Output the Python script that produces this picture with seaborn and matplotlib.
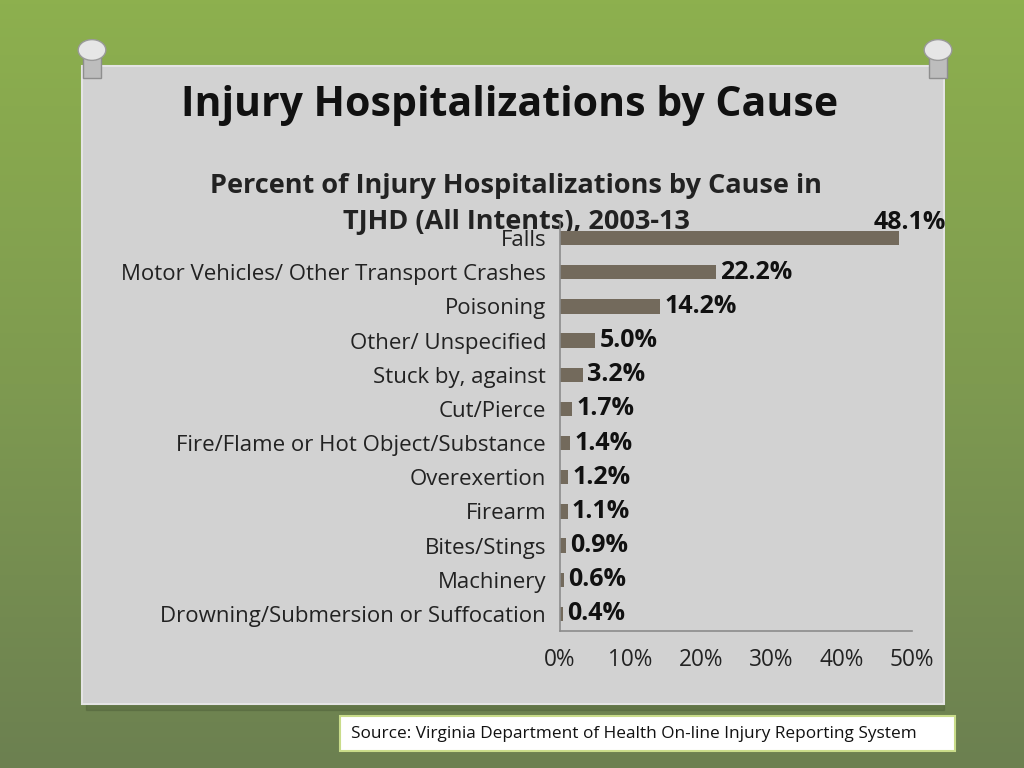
import numpy as np
import pandas as pd
import seaborn as sns
import matplotlib.pyplot as plt
from matplotlib.patches import Rectangle, Circle
from matplotlib.colors import LinearSegmentedColormap

# data
causes = ["Falls", "Motor Vehicles/ Other Transport Crashes", "Poisoning",
          "Other/ Unspecified", "Stuck by, against", "Cut/Pierce",
          "Fire/Flame or Hot Object/Substance", "Overexertion", "Firearm",
          "Bites/Stings", "Machinery", "Drowning/Submersion or Suffocation"]
percents = [48.1, 22.2, 14.2, 5.0, 3.2, 1.7, 1.4, 1.2, 1.1, 0.9, 0.6, 0.4]
x_ticks = [0, 10, 20, 30, 40, 50]

df = pd.DataFrame({"cause": causes, "pct": percents})

sns.set_style("white")
plt.rcParams["font.family"] = ["Open Sans", "DejaVu Sans"]

fig = plt.figure(figsize=(10.24, 7.68), dpi=100)

# green backdrop
bg = fig.add_axes([0, 0, 1, 1])
grad = np.linspace(0, 1, 256).reshape(-1, 1)
cmap = LinearSegmentedColormap.from_list("wall", ["#8db04e", "#7e9a50", "#6c8050"])
bg.imshow(grad, aspect="auto", cmap=cmap, extent=[0, 1, 0, 1], origin="upper")
bg.set_xlim(0, 1)
bg.set_ylim(0, 1)
bg.axis("off")

W, H = 1024, 768
def fx(px):
    return px / W
def fy(py):
    return 1 - py / H

# the card with a soft shadow
bg.add_patch(Rectangle((fx(86), fy(710)), fx(944) - fx(86), fy(70) - fy(710),
                       color="#4a5a35", alpha=0.35, zorder=1))
bg.add_patch(Rectangle((fx(82), fy(704)), fx(944) - fx(82), fy(66) - fy(704),
                       facecolor="#d2d2d2", edgecolor="#e4e4e4", lw=1.5, zorder=2))

# pins
for px in (92, 938):
    bg.add_patch(Rectangle((fx(px - 9), fy(78)), fx(18), fy(50) - fy(78),
                           color="#bdbdbd", ec="#8e8e8e", lw=1, zorder=4))
    bg.add_patch(Circle((fx(px), fy(50)), 0.0135, color="#e6e6e6", ec="#9a9a9a", lw=1, zorder=5))

# source box
bg.add_patch(Rectangle((fx(340), fy(751)), fx(955) - fx(340), fy(716) - fy(751),
                       facecolor="white", edgecolor="#c9dc8a", lw=1.5, zorder=2))
bg.text(fx(351), fy(733.5), "Source: Virginia Department of Health On-line Injury Reporting System",
        fontsize=12.4, va="center", ha="left", color="#111111", zorder=3)

# slide titles
bg.text(fx(510), fy(106), "Injury Hospitalizations by Cause", fontsize=29.5, fontweight="bold",
        ha="center", va="center", color="#111111", zorder=3)
bg.text(fx(516), fy(186), "Percent of Injury Hospitalizations by Cause in", fontsize=19.5,
        fontweight="bold", ha="center", va="center", color="#222222", zorder=3)
bg.text(fx(516), fy(222), "TJHD (All Intents), 2003-13", fontsize=19.5,
        fontweight="bold", ha="center", va="center", color="#222222", zorder=3)

# the bar chart
ax = fig.add_axes([fx(560), fy(631), fx(912) - fx(560), fy(221) - fy(631)])
ax.patch.set_alpha(0)
sns.barplot(data=df, y="cause", x="pct", orient="h", color="#736a5c", width=0.42,
            saturation=1, linewidth=0, ax=ax)
ax.set_xlim(0, 50)
ax.set_ylim(11.5, -0.5)
ax.set_xticks(x_ticks)
ax.set_xticklabels([f"{t}%" for t in x_ticks], fontsize=16.3, color="#222222")
ax.set_xlabel("")
ax.set_ylabel("")
ax.tick_params(axis="y", length=0, pad=10, labelsize=16, labelcolor="#222222")
ax.set_yticks(np.arange(-0.5, 12, 1), minor=True)
ax.tick_params(axis="y", which="minor", length=5, color="#8c8c8c", direction="out")
ax.tick_params(axis="x", length=5, color="#8c8c8c", direction="in", pad=12)
for s in ("top", "right"):
    ax.spines[s].set_visible(False)
for s in ("left", "bottom"):
    ax.spines[s].set_color("#8c8c8c")
    ax.spines[s].set_linewidth(1.2)

for i, v in enumerate(percents):
    if i == 0:
        ax.annotate(f"{v:.1f}%", (v, i), xytext=(-18, 11.5), textcoords="offset points",
                    fontsize=18, fontweight="bold", ha="left", va="center", color="#111111",
                    annotation_clip=False, zorder=5)
    else:
        ax.annotate(f"{v:.1f}%", (v, i), xytext=(3, 0), textcoords="offset points",
                    fontsize=18, fontweight="bold", ha="left", va="center", color="#111111")

fig.savefig("out.png", dpi=100)
